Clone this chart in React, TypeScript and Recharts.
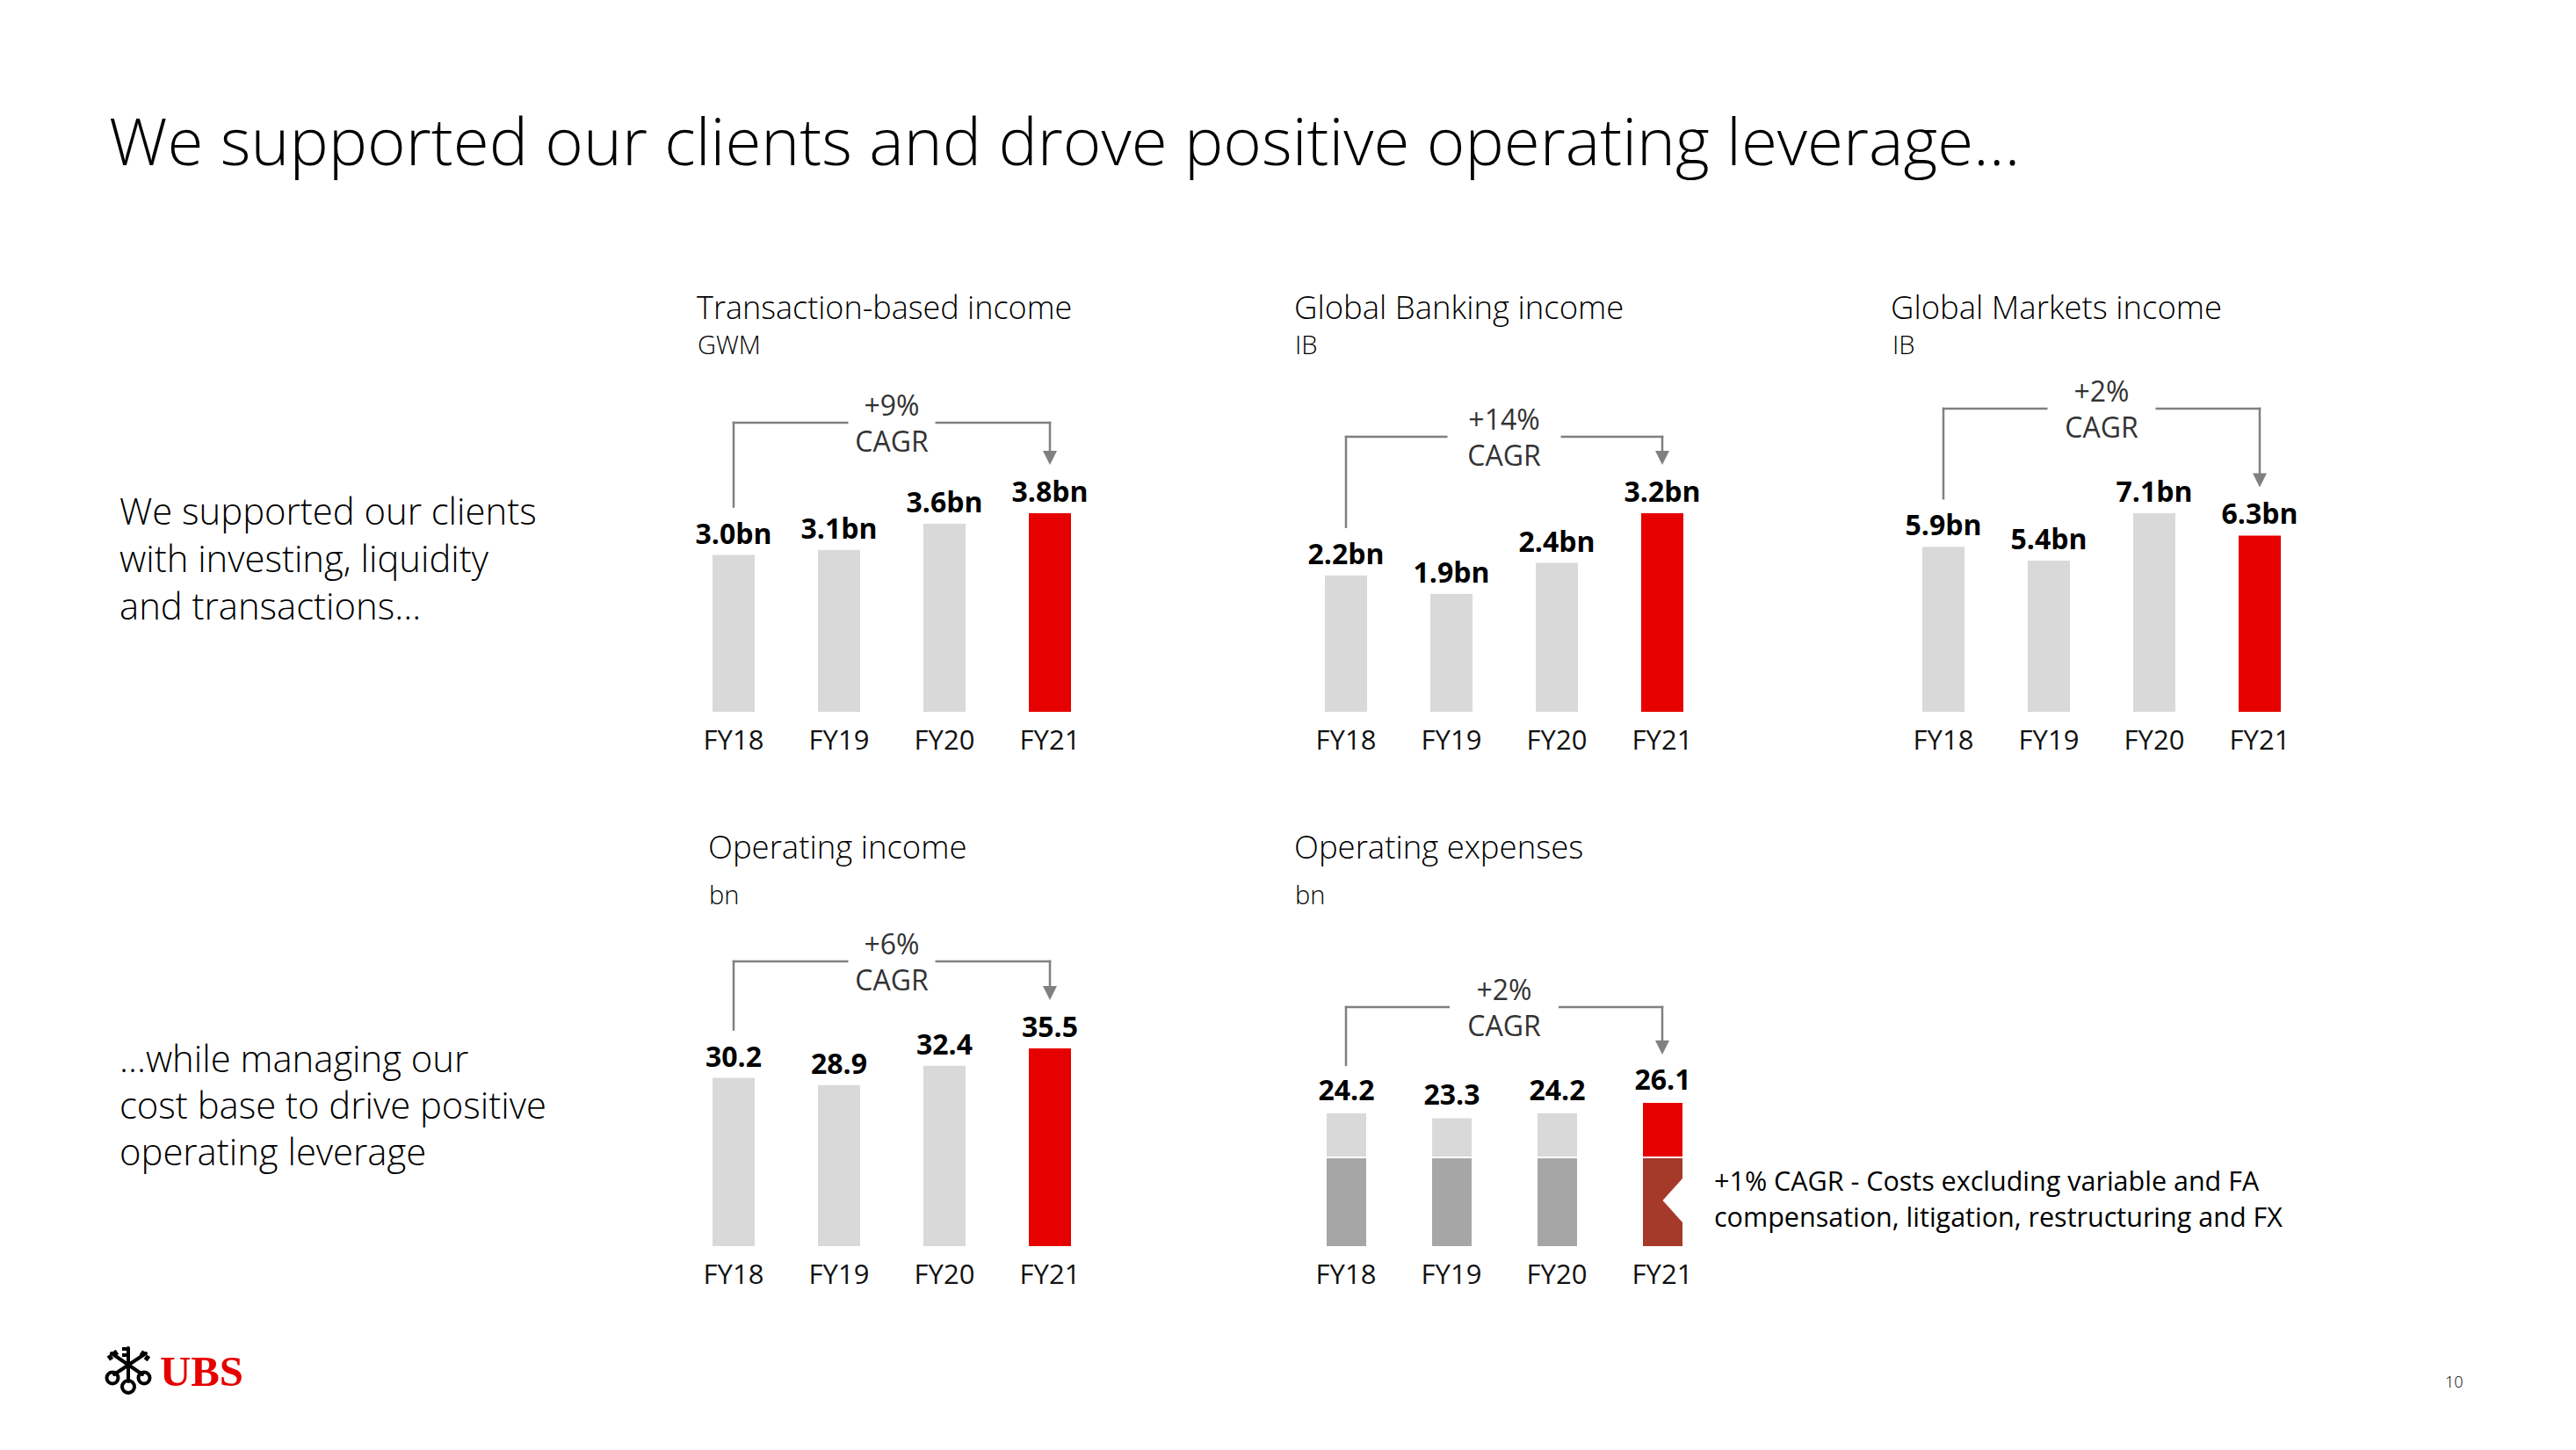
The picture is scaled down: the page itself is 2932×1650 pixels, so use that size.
import React from 'react';
import { BarChart, Bar, XAxis, YAxis, Cell, LabelList, ReferenceLine, ReferenceDot } from 'recharts';

const FONT = "'Open Sans', 'Noto Sans', 'DejaVu Sans', sans-serif";

// ---------- data ----------
const years = ['FY18', 'FY19', 'FY20', 'FY21'];
const transactionIncome = [3.0, 3.1, 3.6, 3.8];
const globalBankingIncome = [2.2, 1.9, 2.4, 3.2];
const globalMarketsIncome = [5.9, 5.4, 7.1, 6.3];
const operatingIncome = [30.2, 28.9, 32.4, 35.5];
const operatingExpenses = [24.2, 23.3, 24.2, 26.1];
const expensesCoreBase = [16.0, 16.0, 16.0, 16.0];
const cagrTexts = ['+9%', '+14%', '+2%', '+6%', '+2%'];

// ---------- styles ----------
const GRAY = '#D9D9D9';
const RED = '#E60000';
const DARK_GRAY = '#A6A6A6';
const DARK_RED = '#A5392A';
const LINE = '#808080';

const fmtBn = (v: number) => `${Number(v).toFixed(1)}bn`;
const fmtNum = (v: number) => `${Number(v).toFixed(1)}`;

const CagrLabel = (props: any) => {
  const { viewBox, gap, text } = props;
  if (!viewBox) return null;
  const cx = viewBox.x + viewBox.width / 2;
  const cy = viewBox.y;
  return (
    <g>
      <rect x={cx - gap / 2} y={cy - 5} width={gap} height={10} fill="#fff" />
      <text x={cx} y={cy - 8} textAnchor="middle" fontSize={32} fill="#333" fontFamily={FONT} fontWeight={400}>
        {text}
      </text>
      <text x={cx} y={cy + 33} textAnchor="middle" fontSize={32} fill="#333" fontFamily={FONT} fontWeight={400}>
        CAGR
      </text>
    </g>
  );
};

const RestShape = (p: any) => (
  <rect x={p.x} y={p.y} width={p.width} height={Math.max(0, p.height - 2)} fill={p.fill} />
);

const CoreShape = (p: any) => {
  const isLast = p.payload && p.payload.name === years[years.length - 1];
  if (!isLast) return <rect x={p.x} y={p.y} width={p.width} height={p.height} fill={p.fill} />;
  const x = p.x, y = p.y, w = p.width, h = p.height;
  const nTop = y + 23, nBot = y + 73, nMid = (nTop + nBot) / 2;
  const pts = [
    [x, y], [x + w, y], [x + w, nTop], [x + w / 2, nMid], [x + w, nBot], [x + w, y + h], [x, y + h],
  ].map((q) => q.join(',')).join(' ');
  return <polygon points={pts} fill={p.fill} />;
};

type PanelProps = {
  plotLeft: number;
  plotTop: number;
  baseline: number;
  values: number[];
  maxBarPx: number;
  barSize: number;
  fmt: (v: number) => string;
  cagr: string;
  rise: number;
  gap: number;
  core?: number[];
  labelOffset?: number;
};

function Panel({ plotLeft, plotTop, baseline, values, maxBarPx, barSize, fmt, cagr, rise, gap, core, labelOffset = 13 }: PanelProps) {
  const mL = 20, mR = 20, mT = 10, axisH = 60;
  const plotH = baseline - plotTop;
  const maxV = Math.max(...values);
  const domainMax = (maxV * plotH) / maxBarPx;
  const ppu = plotH / domainMax;
  const last = years.length - 1;
  const data = years.map((name, i) => ({
    name,
    value: values[i],
    core: core ? core[i] : 0,
    rest: core ? values[i] - core[i] : 0,
  }));
  const level = rise / ppu;
  const leftEnd = values[0] + 55 / ppu;
  const tip = values[last] + 55 / ppu;
  const headTop = tip + 15 / ppu;
  const labelProps = { fill: '#000', fontSize: 32, fontWeight: 700, fontFamily: FONT } as any;

  return (
    <div style={{ position: 'absolute', left: plotLeft - mL, top: plotTop - mT }}>
      <BarChart
        width={480 + mL + mR}
        height={mT + plotH + axisH}
        data={data}
        margin={{ top: mT, right: mR, bottom: 0, left: mL }}
        barCategoryGap={0}
      >
        <XAxis
          dataKey="name"
          axisLine={false}
          tickLine={false}
          tickSize={0}
          tickMargin={21}
          height={axisH}
          interval={0}
          tick={{ fontSize: 31, fill: '#111', fontFamily: FONT, fontWeight: 400 }}
        />
        <YAxis hide type="number" domain={[0, domainMax]} allowDataOverflow />
        {core ? (
          <Bar dataKey="core" stackId="s" barSize={barSize} isAnimationActive={false} shape={CoreShape}>
            {data.map((d, i) => (
              <Cell key={d.name} fill={i === last ? DARK_RED : DARK_GRAY} />
            ))}
          </Bar>
        ) : null}
        {core ? (
          <Bar dataKey="rest" stackId="s" barSize={barSize} isAnimationActive={false} shape={RestShape}>
            {data.map((d, i) => (
              <Cell key={d.name} fill={i === last ? RED : GRAY} />
            ))}
            <LabelList dataKey="value" position="top" offset={labelOffset} formatter={fmt as any} {...labelProps} />
          </Bar>
        ) : (
          <Bar dataKey="value" barSize={barSize} isAnimationActive={false}>
            {data.map((d, i) => (
              <Cell key={d.name} fill={i === last ? RED : GRAY} />
            ))}
            <LabelList dataKey="value" position="top" offset={labelOffset} formatter={fmt as any} {...labelProps} />
          </Bar>
        )}
        <ReferenceLine
          segment={[{ x: years[0], y: leftEnd }, { x: years[0], y: level }]}
          stroke={LINE}
          strokeWidth={2.5}
          strokeLinecap="square"
          ifOverflow="visible"
        />
        <ReferenceLine
          segment={[{ x: years[0], y: level }, { x: years[last], y: level }]}
          stroke={LINE}
          strokeWidth={2.5}
          strokeLinecap="square"
          ifOverflow="visible"
          label={<CagrLabel gap={gap} text={cagr} />}
        />
        <ReferenceLine
          segment={[{ x: years[last], y: level }, { x: years[last], y: headTop }]}
          stroke={LINE}
          strokeWidth={2.5}
          strokeLinecap="square"
          ifOverflow="visible"
        />
        <ReferenceDot
          x={years[last]}
          y={tip}
          ifOverflow="visible"
          shape={(p: any) => (
            <polygon points={`${p.cx - 8},${p.cy - 16} ${p.cx + 8},${p.cy - 16} ${p.cx},${p.cy}`} fill={LINE} />
          )}
        />
      </BarChart>
    </div>
  );
}

function Logo() {
  return (
    <g>
      <g stroke="#000" strokeWidth={4} fill="none" strokeLinecap="round">
        <line x1={146} y1={1572} x2={146} y2={1534} />
        <line x1={130} y1={1564} x2={166} y2={1540} />
        <line x1={162} y1={1564} x2={127} y2={1540} />
        <circle cx={146} cy={1578} r={7} />
        <circle cx={128} cy={1568} r={6.5} />
        <circle cx={164} cy={1568} r={6.5} />
      </g>
      <g fill="#000">
        <rect x={139} y={1533} width={6} height={4} />
        <rect x={139} y={1540} width={6} height={4} />
        <rect x={123} y={1542} width={5} height={6} transform="rotate(-35 125 1545)" />
        <rect x={129} y={1537} width={5} height={6} transform="rotate(-35 131 1540)" />
        <rect x={165} y={1542} width={5} height={6} transform="rotate(35 167 1545)" />
        <rect x={160} y={1537} width={5} height={6} transform="rotate(35 162 1540)" />
      </g>
      <text
        x={182}
        y={1577}
        fontSize={48}
        fontWeight={700}
        fill={RED}
        fontFamily="'Liberation Serif', 'DejaVu Serif', serif"
        textLength={95}
        lengthAdjust="spacingAndGlyphs"
      >
        UBS
      </text>
    </g>
  );
}

export default function App() {
  const t = { fontFamily: FONT, fill: '#000' } as any;
  return (
    <div style={{ position: 'absolute', left: 0, top: 0, width: 2932, height: 1650, background: '#fff', overflow: 'hidden' }}>
      <svg width={2932} height={1650} style={{ position: 'absolute', left: 0, top: 0 }}>
        <text x={124} y={188} fontSize={74.5} fontWeight={300} {...t}>
          We supported our clients and drove positive operating leverage…
        </text>

        <text x={136} y={597} fontSize={41.8} fontWeight={300} {...t}>We supported our clients</text>
        <text x={136} y={651} fontSize={41.8} fontWeight={300} {...t}>with investing, liquidity</text>
        <text x={136} y={705} fontSize={41.8} fontWeight={300} {...t}>and transactions…</text>

        <text x={136} y={1220} fontSize={41.8} fontWeight={300} {...t}>…while managing our</text>
        <text x={136} y={1273} fontSize={41.8} fontWeight={300} {...t}>cost base to drive positive</text>
        <text x={136} y={1326} fontSize={41.8} fontWeight={300} {...t}>operating leverage</text>

        <text x={793} y={363} fontSize={36} fontWeight={300} {...t}>Transaction-based income</text>
        <text x={794} y={403} fontSize={29} fontWeight={300} {...t}>GWM</text>
        <text x={1473} y={363} fontSize={36.5} fontWeight={300} {...t}>Global Banking income</text>
        <text x={1474} y={403} fontSize={29} fontWeight={300} {...t}>IB</text>
        <text x={2152} y={363} fontSize={36.5} fontWeight={300} {...t}>Global Markets income</text>
        <text x={2154} y={403} fontSize={29} fontWeight={300} {...t}>IB</text>

        <text x={806} y={977} fontSize={36.5} fontWeight={300} {...t}>Operating income</text>
        <text x={807} y={1029} fontSize={29} fontWeight={300} {...t}>bn</text>
        <text x={1473} y={977} fontSize={36.5} fontWeight={300} {...t}>Operating expenses</text>
        <text x={1474} y={1029} fontSize={29} fontWeight={300} {...t}>bn</text>

        <text x={1951} y={1355} fontSize={30.5} fontWeight={400} {...t}>+1% CAGR - Costs excluding variable and FA</text>
        <text x={1951} y={1396} fontSize={30.5} fontWeight={400} {...t}>compensation, litigation, restructuring and FX</text>

        <text x={2783} y={1579} fontSize={18} fontWeight={300} {...t}>10</text>
        <Logo />
      </svg>

      <Panel plotLeft={775} plotTop={430} baseline={810} values={transactionIncome} maxBarPx={226} barSize={48}
        fmt={fmtBn} cagr={cagrTexts[0]} rise={329} gap={99} />
      <Panel plotLeft={1472} plotTop={430} baseline={810} values={globalBankingIncome} maxBarPx={226} barSize={48}
        fmt={fmtBn} cagr={cagrTexts[1]} rise={313} gap={129} />
      <Panel plotLeft={2152} plotTop={430} baseline={810} values={globalMarketsIncome} maxBarPx={226} barSize={48}
        fmt={fmtBn} cagr={cagrTexts[2]} rise={345} gap={123} />
      <Panel plotLeft={775} plotTop={1050} baseline={1418} values={operatingIncome} maxBarPx={225} barSize={48}
        fmt={fmtNum} cagr={cagrTexts[3]} rise={324} gap={99} />
      <Panel plotLeft={1472} plotTop={1050} baseline={1418} values={operatingExpenses} maxBarPx={163} barSize={45}
        fmt={fmtNum} cagr={cagrTexts[4]} rise={272} gap={124} core={expensesCoreBase} labelOffset={15} />
    </div>
  );
}
